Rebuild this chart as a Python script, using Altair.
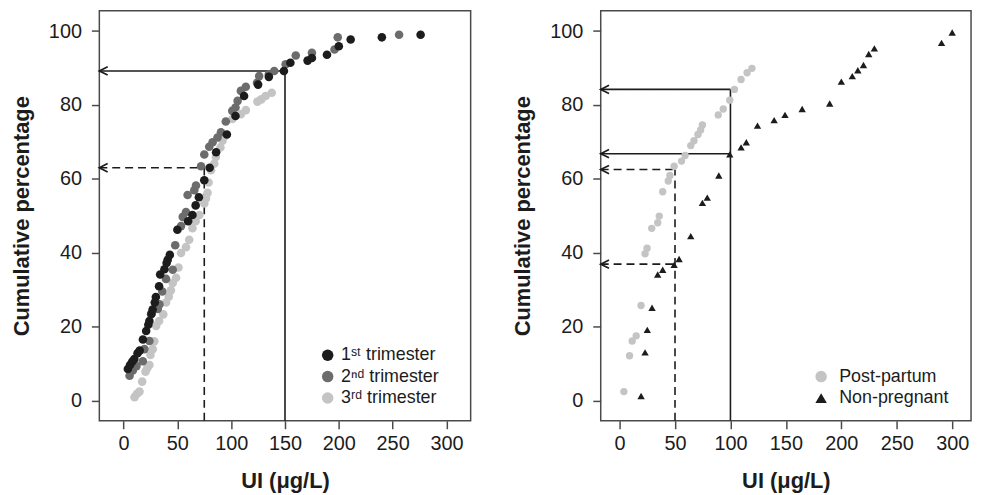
import altair as alt
import pandas as pd

# ---------------- data ----------------
# Left panel: cumulative percentage of urinary iodine (UI) by trimester
tri1_ui = [4, 6, 8, 10, 13, 15, 18, 21, 23, 24, 26, 27, 29, 30, 33, 34, 38, 40, 41, 43,
           50, 60, 64, 67, 70, 75, 80, 86, 96, 104, 112, 125, 135, 149, 155, 171, 175,
           189, 200, 211, 240, 276]
tri1_pct = [8.5, 9.6, 10.5, 11.2, 12.8, 13.5, 16.5, 18.8, 20.5, 21.5, 23.5, 24.6, 26.5,
            28.0, 30.9, 34.1, 35.5, 37.2, 38.1, 39.4, 46.2, 48.5, 50.2, 52.8, 55.0, 59.6,
            63.0, 67.2, 72.0, 77.0, 82.4, 85.5, 87.6, 89.2, 91.4, 92.0, 92.7, 93.6, 95.9,
            97.7, 98.3, 99.0]
tri2_ui = [5.6, 8.6, 12, 17.9, 19.4, 24, 25.6, 31.8, 33.3, 36, 39.5, 45.7, 48, 53.4, 55,
           58, 59.5, 65.7, 67.3, 72, 75, 79.6, 82.7, 87.3, 90.5, 95, 101, 104, 106, 109,
           113.6, 124, 126, 135, 140, 150.6, 160, 175, 196, 199, 256]
tri2_pct = [6.7, 8.1, 9.3, 10.6, 13.9, 16.1, 23.3, 24.8, 26.0, 29.5, 32.9, 35.4, 42.0,
            47.2, 49.7, 51.0, 55.6, 56.9, 58.2, 63.4, 66.6, 68.7, 69.9, 71.2, 72.6, 75.5,
            78.4, 79.3, 81.1, 83.8, 84.9, 86.0, 87.8, 88.3, 89.2, 91.0, 93.4, 94.1, 95.0,
            98.3, 99.0]
tri3_ui = [10.2, 12.5, 14.8, 17.3, 20.4, 22, 24, 25, 27.1, 28.5, 30.3, 33, 36.9, 39.5, 42,
           44, 45.7, 48.8, 51, 53.4, 58, 61, 64, 67, 70.4, 75, 76.6, 78, 79, 81.2, 84.3,
           85.8, 90, 92, 93.5, 101, 109, 113.6, 124.4, 128, 132, 137.7]
tri3_pct = [0.9, 1.8, 2.4, 5.1, 7.8, 8.7, 9.6, 12.3, 13.9, 16.0, 20.2, 21.5, 23.3, 26.5,
            28.1, 29.8, 31.8, 33.2, 36.0, 39.9, 41.5, 43.5, 46.6, 48.5, 50.2, 53.3, 54.7,
            56.2, 59.0, 62.3, 64.1, 65.9, 68.5, 70.3, 71.4, 76.2, 77.5, 78.6, 80.9, 81.5,
            82.4, 83.3]
series_left = ["1ˢᵗ trimester", "2ⁿᵈ trimester", "3ʳᵈ trimester"]
colors_left = ["#1c1c1c", "#6c6c6c", "#c4c4c4"]

# Right panel: post-partum vs non-pregnant
pp_ui = [3.9, 9, 11.4, 15, 19.4, 23, 24.8, 29, 34.4, 35.8, 38.9, 43.9, 45.4, 49.2, 55.9,
         59.1, 64.2, 67.1, 70.7, 73.1, 74.7, 89, 93.5, 99.4, 103.6, 109.6, 115, 119.4]
pp_pct = [2.4, 12.1, 16.1, 17.5, 25.7, 39.7, 41.2, 46.6, 48.1, 49.9, 56.5, 59.4, 60.9,
          63.4, 64.8, 66.3, 69.0, 70.3, 72.0, 73.2, 74.6, 77.3, 78.9, 81.3, 84.2, 86.9,
          88.7, 89.9]
np_ui = [19.4, 23, 25, 29.3, 34.4, 38.9, 49.2, 53.7, 64.2, 74.7, 79.1, 89.5, 99.4, 109.6,
         114.3, 124.4, 139.4, 149.2, 164.7, 189.5, 200, 209.9, 214.9, 220, 224.7, 229.8,
         290.4, 300]
np_pct = [1.2, 13.0, 19.1, 25.1, 34.1, 35.4, 36.7, 38.3, 44.5, 53.5, 54.9, 60.9, 66.6,
          68.5, 69.9, 74.4, 75.9, 77.3, 78.9, 80.4, 86.3, 87.8, 89.4, 90.8, 93.8, 95.3,
          96.8, 99.6]
series_right = ["Post-partum", "Non-pregnant"]
colors_right = ["#c4c4c4", "#1c1c1c"]
shapes_right = ["circle", "triangle-up"]

# reference lines (arrows)
guide_left_ui = [150, 75]
guide_left_pct = [89.2, 63.0]
guide_left_style = ["solid", "dashed"]

guide_right_v_ui = [100, 50]
guide_right_v_pct = [84.2, 62.5]
guide_right_v_style = ["solid", "dashed"]
guide_right_h_ui = [100, 100, 50, 50]
guide_right_h_pct = [84.2, 66.8, 62.5, 36.9]
guide_right_h_style = ["solid", "solid", "dashed", "dashed"]

x_ticks = [0, 50, 100, 150, 200, 250, 300]
y_ticks = [0, 20, 40, 60, 80, 100]
X_DOM_LEFT = [-22.5, 322.5]
X_DOM_RIGHT = [-17, 317]
Y_DOM = [-5.5, 105.5]

FONT = "Liberation Sans, Arial, Helvetica, DejaVu Sans, sans-serif"
INK = "#1c1c1c"

# ---------------- tables ----------------
df_left = pd.concat([
    pd.DataFrame({"ui": tri3_ui, "pct": tri3_pct, "group": series_left[2], "ord": 0}),
    pd.DataFrame({"ui": tri2_ui, "pct": tri2_pct, "group": series_left[1], "ord": 1}),
    pd.DataFrame({"ui": tri1_ui, "pct": tri1_pct, "group": series_left[0], "ord": 2}),
], ignore_index=True)
df_right = pd.concat([
    pd.DataFrame({"ui": pp_ui, "pct": pp_pct, "group": series_right[0]}),
    pd.DataFrame({"ui": np_ui, "pct": np_pct, "group": series_right[1]}),
], ignore_index=True)


def axes(xdom):
    x = dict(scale=alt.Scale(domain=xdom, nice=False, zero=False),
             axis=alt.Axis(values=x_ticks, title="UI (μg/L)", labelPadding=5,
                           titlePadding=17))
    y = dict(scale=alt.Scale(domain=Y_DOM, nice=False, zero=False),
             axis=alt.Axis(values=y_ticks, title="Cumulative percentage",
                           labelPadding=10, titlePadding=15))
    return x, y


def guides(xdom, v_ui, v_pct, v_style, h_ui, h_pct, h_style):
    xa, ya = axes(xdom)
    dash = alt.StrokeDash("style:N", scale=alt.Scale(domain=["solid", "dashed"],
                                                     range=[[1, 0], [8, 5]]), legend=None)
    dv = pd.DataFrame({"ui": v_ui, "pct": v_pct, "style": v_style, "ybot": Y_DOM[0]})
    dh = pd.DataFrame({"ui": h_ui, "pct": h_pct, "style": h_style, "xleft": xdom[0]})
    vert = alt.Chart(dv).mark_rule(color=INK, strokeWidth=1.6).encode(
        x=alt.X("ui:Q", **xa),
        y=alt.Y("ybot:Q", **ya), y2="pct:Q", strokeDash=dash)
    horiz = alt.Chart(dh).mark_rule(color=INK, strokeWidth=1.6).encode(
        x=alt.X("xleft:Q", **xa), x2="ui:Q",
        y=alt.Y("pct:Q", **ya), strokeDash=dash)
    heads = alt.Chart(dh).mark_point(shape="M2,-1L0,0L2,1", filled=False, size=70,
                                     color=INK, strokeWidth=1.7, opacity=1).encode(
        x=alt.X("xleft:Q", **xa),
        y=alt.Y("pct:Q", **ya))
    return [vert, horiz, heads]


xl, yl = axes(X_DOM_LEFT)
leg_left = alt.Legend(orient="none", legendX=221, legendY=338, title=None,
                      labelFont=FONT, labelFontSize=18, labelColor=INK,
                      symbolSize=133, symbolStrokeWidth=0, labelOffset=4.5,
                      rowPadding=3.5, padding=0, symbolOpacity=1)
pts_left = alt.Chart(df_left).mark_circle(size=75, opacity=1).encode(
    x=alt.X("ui:Q", **xl), y=alt.Y("pct:Q", **yl),
    color=alt.Color("group:N", scale=alt.Scale(domain=series_left, range=colors_left),
                    legend=leg_left),
    order=alt.Order("ord:Q"))
left = alt.layer(
    *guides(X_DOM_LEFT, guide_left_ui, guide_left_pct, guide_left_style,
            guide_left_ui, guide_left_pct, guide_left_style),
    pts_left).properties(width=374, height=413)

xr, yr = axes(X_DOM_RIGHT)
leg_right = alt.Legend(orient="none", legendX=213, legendY=359.5, title=None,
                       labelFont=FONT, labelFontSize=18, labelColor=INK,
                       symbolSize=133, symbolStrokeWidth=0, labelOffset=9.2,
                       rowPadding=3.7, padding=0, symbolOpacity=1)
pts_right = alt.Chart(df_right).mark_point(filled=True, size=55, opacity=1).encode(
    x=alt.X("ui:Q", **xr), y=alt.Y("pct:Q", **yr),
    color=alt.Color("group:N", scale=alt.Scale(domain=series_right, range=colors_right),
                    legend=leg_right),
    shape=alt.Shape("group:N", scale=alt.Scale(domain=series_right, range=shapes_right),
                    legend=leg_right))
right = alt.layer(
    *guides(X_DOM_RIGHT, guide_right_v_ui, guide_right_v_pct, guide_right_v_style,
            guide_right_h_ui, guide_right_h_pct, guide_right_h_style),
    pts_right).properties(width=373, height=413)

chart = alt.hconcat(left, right, spacing=39).resolve_scale(
    color="independent", shape="independent", x="independent", y="independent"
).properties(
    padding={"left": 1, "top": 0, "right": 5, "bottom": 0}
).configure_view(
    stroke="#4a4a4a", strokeWidth=1.5
).configure_axis(
    labelFont=FONT, labelFontSize=20, labelColor=INK,
    titleFont=FONT, titleFontSize=22, titleFontWeight="bold", titleColor=INK,
    tickSize=8, tickColor="#4a4a4a", tickWidth=1.5, domain=False, grid=False
)

chart.save("out.html", embed_options={"renderer": "svg", "actions": False})
